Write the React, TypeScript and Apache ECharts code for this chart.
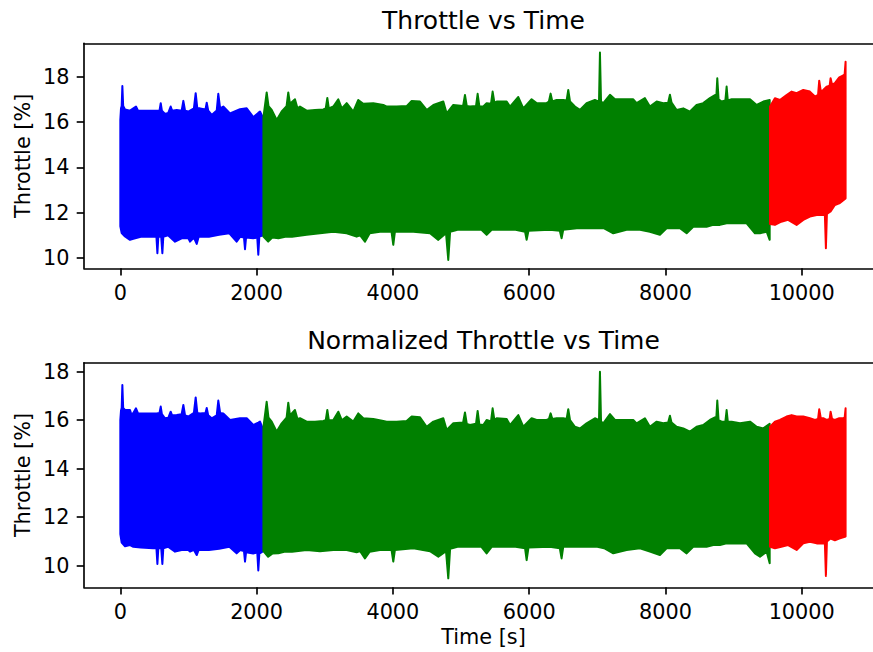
import React, { useEffect, useRef } from "react";
import * as echarts from "echarts";

// ---- tick labels ----
const timeTicks = [0, 2000, 4000, 6000, 8000, 10000];
const throttleTicks = [10, 12, 14, 16, 18];

// ---- titles / labels ----
const titleTop = "Throttle vs Time";
const titleBottom = "Normalized Throttle vs Time";
const yLabel = "Throttle [%]";
const xLabel = "Time [s]";

// ---- Raw throttle: envelope of the signal (time [s], throttle [%]) ----
const rawBlueUpper = [
  [0, 16.1], [10, 16.6], [20, 16.7], [30, 17.59], [42, 16.7], [69, 16.55], [142, 16.5], [191, 16.6],
  [230, 16.68], [260, 16.5], [387, 16.5], [534, 16.5], [575, 16.5], [593, 16.83], [610, 16.5],
  [656, 16.35], [704, 16.4], [739, 16.68], [760, 16.5], [828, 16.53], [900, 16.5], [925, 16.93],
  [950, 16.5], [998, 16.46], [1080, 16.6], [1106, 17.27], [1130, 16.6], [1170, 16.6], [1250, 16.55],
  [1268, 16.85], [1290, 16.5], [1341, 16.31], [1415, 16.5], [1438, 17.24], [1465, 16.6], [1511, 16.68],
  [1610, 16.38], [1756, 16.56], [1855, 16.6], [1952, 16.21], [2025, 16.4], [2050, 16.46], [2098, 16.16],
];
const rawBlueLower = [
  [0, 11.4], [20, 11.1], [69, 10.95], [142, 10.8], [191, 10.85], [300, 10.94], [480, 10.94], [530, 10.94],
  [544, 10.21], [558, 10.94], [600, 10.94], [617, 10.21], [631, 10.94], [700, 11.0], [803, 10.72],
  [900, 10.87], [998, 10.87], [1023, 10.72], [1080, 10.9], [1121, 10.62], [1150, 10.94], [1300, 10.94],
  [1450, 11.02], [1600, 11.09], [1707, 10.72], [1760, 10.94], [1815, 10.9], [1830, 10.39], [1845, 10.9],
  [1950, 10.87], [2010, 10.9], [2025, 10.14], [2040, 10.94], [2098, 11.0],
];
const rawGreenUpper = [
  [2100, 16.2], [2148, 17.3], [2175, 16.7], [2222, 16.53], [2295, 16.09], [2368, 16.46], [2440, 16.7],
  [2465, 17.3], [2490, 16.8], [2563, 17.0], [2600, 16.6], [2637, 16.68], [2735, 16.5], [2857, 16.53],
  [2979, 16.55], [3015, 16.6], [3038, 17.06], [3060, 16.6], [3126, 16.68], [3199, 17.0], [3250, 16.6],
  [3322, 16.83], [3419, 16.46], [3492, 16.97], [3566, 16.8], [3713, 16.83], [3860, 16.75], [3909, 16.68],
  [4055, 16.68], [4202, 16.7], [4276, 16.93], [4398, 16.9], [4496, 16.53], [4594, 16.75], [4740, 16.9],
  [4789, 16.38], [4887, 16.75], [5030, 16.7], [5058, 17.19], [5085, 16.7], [5131, 16.68], [5220, 16.7],
  [5244, 17.24], [5270, 16.68], [5327, 16.68], [5376, 16.83], [5440, 16.8], [5464, 17.34], [5490, 16.85],
  [5523, 16.9], [5670, 16.9], [5719, 16.68], [5841, 17.1], [5914, 16.6], [6036, 17.0], [6109, 16.83],
  [6256, 16.83], [6290, 16.9], [6315, 17.25], [6340, 16.9], [6403, 16.97], [6501, 16.97], [6550, 16.95],
  [6574, 17.41], [6600, 16.9], [6672, 16.68], [6745, 16.53], [6843, 16.83], [6965, 16.97], [7025, 16.9],
  [7039, 19.06], [7055, 16.9], [7088, 16.83], [7186, 17.2], [7259, 17.0], [7381, 17.0], [7528, 17.0],
  [7577, 16.83], [7699, 17.05], [7772, 16.68], [7871, 16.9], [7968, 16.83], [8040, 16.85], [8066, 17.2],
  [8090, 16.85], [8164, 16.53], [8262, 16.6], [8360, 16.46], [8457, 16.75], [8555, 16.83], [8653, 17.05],
  [8727, 17.19], [8745, 17.0], [8761, 17.93], [8780, 17.0], [8825, 16.9], [8880, 16.95], [8898, 17.56],
  [8915, 16.95], [8972, 17.0], [9094, 17.0], [9241, 17.0], [9339, 16.75], [9437, 16.9], [9530, 16.97],
];
const rawGreenLower = [
  [2100, 10.94], [2170, 10.72], [2230, 10.9], [2320, 10.87], [2420, 10.94], [2520, 10.94], [2735, 11.02],
  [2930, 11.09], [3126, 11.16], [3322, 11.09], [3468, 10.94], [3520, 11.0], [3590, 10.72], [3660, 11.09],
  [3810, 11.16], [3980, 11.16], [4006, 10.58], [4030, 11.16], [4300, 11.16], [4545, 11.09], [4667, 10.8],
  [4780, 11.09], [4813, 9.91], [4840, 11.16], [4950, 11.24], [5300, 11.24], [5376, 11.02], [5450, 11.24],
  [5800, 11.24], [5940, 11.16], [5963, 10.8], [5990, 11.2], [6300, 11.24], [6450, 11.2], [6476, 10.87],
  [6500, 11.24], [6700, 11.31], [7000, 11.31], [7100, 11.31], [7235, 11.09], [7430, 11.24], [7626, 11.24],
  [7772, 11.16], [7919, 11.02], [8017, 11.31], [8213, 11.31], [8311, 11.09], [8408, 11.38], [8604, 11.38],
  [8702, 11.46], [8800, 11.46], [8898, 11.53], [9192, 11.53], [9314, 11.09], [9388, 11.09], [9486, 11.16],
  [9530, 10.8],
];
const rawRedUpper = [
  [9535, 16.68], [9607, 17.05], [9680, 16.97], [9778, 17.19], [9852, 17.34], [9925, 17.27], [10023, 17.41],
  [10120, 17.34], [10194, 17.12], [10240, 17.2], [10257, 17.82], [10280, 17.35], [10316, 17.41],
  [10365, 17.56], [10410, 17.6], [10424, 17.93], [10445, 17.65], [10487, 17.71], [10551, 17.97],
  [10610, 18.05], [10630, 18.1], [10644, 18.66],
];
const rawRedLower = [
  [9535, 11.5], [9607, 11.46], [9700, 11.6], [9800, 11.68], [9925, 11.46], [10023, 11.68], [10120, 11.83],
  [10220, 11.9], [10340, 11.9], [10355, 10.43], [10370, 11.95], [10424, 12.05], [10487, 12.34],
  [10551, 12.41], [10644, 12.63],
];

// ---- Normalized throttle: envelope of the signal ----
const normBlueUpper = [
  [0, 16.0], [10, 16.4], [20, 16.5], [30, 17.45], [42, 16.5], [69, 16.42], [142, 16.42], [165, 16.21],
  [191, 16.3], [230, 16.49], [260, 16.28], [387, 16.28], [534, 16.28], [575, 16.3], [593, 16.56],
  [610, 16.25], [656, 16.08], [704, 16.1], [739, 16.35], [760, 16.2], [828, 16.21], [900, 16.25],
  [925, 16.63], [950, 16.2], [998, 16.15], [1080, 16.3], [1106, 16.94], [1130, 16.3], [1170, 16.28],
  [1250, 16.3], [1268, 16.5], [1290, 16.2], [1341, 16.08], [1415, 16.2], [1438, 16.81], [1465, 16.3],
  [1511, 16.28], [1610, 16.01], [1756, 16.08], [1855, 16.08], [1952, 15.8], [2025, 15.9], [2050, 15.94],
  [2098, 15.6],
];
const normBlueLower = [
  [0, 11.3], [20, 10.95], [69, 10.8], [142, 10.85], [191, 10.78], [300, 10.75], [480, 10.72], [530, 10.72],
  [544, 10.07], [558, 10.72], [600, 10.72], [617, 10.07], [631, 10.72], [700, 10.78], [803, 10.58],
  [900, 10.65], [998, 10.65], [1023, 10.58], [1080, 10.65], [1121, 10.44], [1150, 10.65], [1300, 10.65],
  [1450, 10.7], [1600, 10.78], [1707, 10.51], [1760, 10.65], [1815, 10.6], [1830, 10.17], [1845, 10.55],
  [1950, 10.5], [2010, 10.55], [2025, 9.8], [2040, 10.5], [2098, 10.6],
];
const normGreenUpper = [
  [2100, 15.7], [2148, 16.76], [2175, 16.1], [2222, 15.94], [2295, 15.53], [2368, 15.87], [2440, 16.1],
  [2465, 16.72], [2490, 16.2], [2563, 16.42], [2600, 16.05], [2637, 16.08], [2735, 15.94], [2857, 15.94],
  [2979, 15.97], [3015, 16.0], [3038, 16.42], [3060, 16.0], [3126, 16.01], [3199, 16.35], [3250, 16.0],
  [3322, 16.15], [3419, 15.94], [3492, 16.28], [3566, 16.08], [3713, 16.05], [3860, 15.97], [3909, 15.94],
  [4055, 15.94], [4202, 15.97], [4276, 16.15], [4398, 16.12], [4496, 15.73], [4594, 15.94], [4740, 16.08],
  [4789, 15.6], [4887, 15.87], [5030, 15.9], [5058, 16.32], [5085, 15.85], [5131, 15.8], [5220, 15.85],
  [5244, 16.38], [5270, 15.82], [5327, 15.8], [5376, 16.01], [5440, 15.95], [5464, 16.49], [5490, 16.0],
  [5523, 16.08], [5670, 16.05], [5719, 15.8], [5841, 16.21], [5914, 15.73], [6036, 16.08], [6109, 16.01],
  [6256, 16.01], [6290, 16.05], [6315, 16.28], [6340, 16.05], [6403, 16.08], [6501, 16.08], [6550, 16.05],
  [6574, 16.45], [6600, 16.0], [6672, 15.73], [6745, 15.66], [6843, 15.87], [6965, 16.08], [7025, 16.0],
  [7039, 18.0], [7055, 15.95], [7088, 15.87], [7186, 16.25], [7259, 16.01], [7381, 16.01], [7528, 16.01],
  [7577, 15.87], [7699, 16.08], [7772, 15.73], [7871, 15.94], [7968, 15.87], [8040, 15.9], [8066, 16.18],
  [8090, 15.9], [8164, 15.73], [8262, 15.66], [8360, 15.53], [8457, 15.73], [8555, 15.8], [8653, 16.01],
  [8727, 16.12], [8745, 16.0], [8761, 16.81], [8780, 16.0], [8825, 15.94], [8880, 15.95], [8898, 16.42],
  [8915, 15.95], [8972, 15.94], [9094, 15.87], [9241, 15.94], [9339, 15.73], [9437, 15.66], [9530, 15.85],
];
const normGreenLower = [
  [2100, 10.6], [2170, 10.37], [2230, 10.5], [2320, 10.51], [2420, 10.58], [2520, 10.58], [2735, 10.65],
  [2930, 10.6], [3126, 10.65], [3322, 10.65], [3468, 10.55], [3520, 10.6], [3590, 10.3], [3660, 10.58],
  [3810, 10.65], [3980, 10.65], [4006, 10.17], [4030, 10.65], [4300, 10.72], [4545, 10.6], [4667, 10.37],
  [4780, 10.6], [4813, 9.48], [4840, 10.7], [4950, 10.78], [5300, 10.78], [5376, 10.51], [5450, 10.78],
  [5800, 10.78], [5940, 10.72], [5963, 10.23], [5990, 10.75], [6300, 10.78], [6450, 10.72], [6476, 10.3],
  [6500, 10.78], [6700, 10.78], [7000, 10.78], [7100, 10.72], [7235, 10.51], [7430, 10.65], [7626, 10.72],
  [7772, 10.58], [7919, 10.44], [8017, 10.72], [8213, 10.72], [8311, 10.51], [8408, 10.78], [8604, 10.78],
  [8702, 10.85], [8800, 10.85], [8898, 10.92], [9192, 10.92], [9314, 10.51], [9388, 10.37], [9486, 10.58],
  [9530, 10.1],
];
const normRedUpper = [
  [9535, 15.73], [9607, 15.94], [9680, 16.01], [9778, 16.15], [9852, 16.21], [9925, 16.15], [10023, 16.15],
  [10120, 16.08], [10194, 16.01], [10240, 16.05], [10257, 16.45], [10280, 16.08], [10316, 16.08],
  [10365, 16.01], [10410, 16.05], [10424, 16.35], [10445, 16.05], [10487, 16.01], [10551, 16.08],
  [10610, 16.08], [10630, 16.1], [10644, 16.49],
];
const normRedLower = [
  [9535, 10.78], [9607, 10.72], [9700, 10.78], [9800, 10.85], [9925, 10.65], [10023, 10.92], [10120, 10.99],
  [10220, 10.92], [10340, 10.92], [10355, 9.58], [10370, 11.0], [10424, 11.12], [10487, 11.05],
  [10551, 11.12], [10644, 11.2],
];

const FONT = "DejaVu Sans";
const BLUE = "#0000ff";
const GREEN = "#008000";
const RED = "#ff0000";
const X_MIN = -533;
const X_MAX = 11193;
const TICK_FONT = 20.8;
const TITLE_FONT = 25;

function band(upper: number[][], lower: number[][], color: string, idx: number) {
  return {
    type: "custom",
    xAxisIndex: idx * 2,
    yAxisIndex: idx,
    coordinateSystem: "cartesian2d",
    clip: true,
    silent: true,
    data: upper,
    encode: { x: 0, y: 1 },
    renderItem: (params: any, api: any) => {
      if (params.dataIndex !== 0) return null;
      const pts = upper
        .map((p) => api.coord(p))
        .concat(lower.slice().reverse().map((p) => api.coord(p)));
      return {
        type: "polygon",
        shape: { points: pts },
        style: { fill: color, stroke: color, lineWidth: 2, lineJoin: "round" },
      };
    },
  };
}

const spine = { show: true, onZero: false, lineStyle: { color: "#000", width: 1.65 } };
const tickStyle = { color: "#000", width: 1.65 };
const labelBase = {
  fontSize: TICK_FONT,
  fontFamily: FONT,
  color: "#000",
  formatter: (v: number) => String(v),
};

function xAxisCfg(gridIndex: number) {
  return {
    type: "value",
    gridIndex,
    position: "bottom",
    min: X_MIN,
    max: X_MAX,
    axisLine: spine,
    splitLine: { show: false },
    axisTick: { show: true, inside: false, length: 7.3, customValues: timeTicks, lineStyle: tickStyle },
    axisLabel: { ...labelBase, margin: 13.8, customValues: timeTicks },
  };
}

function topSpineCfg(gridIndex: number) {
  return {
    type: "value",
    gridIndex,
    position: "top",
    min: X_MIN,
    max: X_MAX,
    axisLine: spine,
    splitLine: { show: false },
    axisTick: { show: false },
    axisLabel: { show: false },
  };
}

function yAxisCfg(gridIndex: number, min: number, max: number) {
  return {
    type: "value",
    gridIndex,
    min,
    max,
    axisLine: spine,
    splitLine: { show: false },
    axisTick: { show: true, inside: false, length: 7.3, customValues: throttleTicks, lineStyle: tickStyle },
    axisLabel: { ...labelBase, margin: 14.6, customValues: throttleTicks },
  };
}

export default function App() {
  const ref = useRef<HTMLDivElement>(null);
  useEffect(() => {
    if (!ref.current) return;
    const chart = echarts.init(ref.current, null, { renderer: "svg" });
    const textStyle = (text: string, size: number) => ({
      text,
      font: `${size}px "${FONT}"`,
      fill: "#000",
      align: "center",
      verticalAlign: "middle",
    });
    const option: any = {
      animation: false,
      backgroundColor: "#fff",
      grid: [
        { left: 84, top: 43.3, width: 799, height: 225, outerBoundsMode: "none", containLabel: false },
        { left: 84, top: 362.7, width: 799, height: 224.6, outerBoundsMode: "none", containLabel: false },
      ],
      xAxis: [xAxisCfg(0), topSpineCfg(0), xAxisCfg(1), topSpineCfg(1)],
      yAxis: [yAxisCfg(0, 9.545, 19.47), yAxisCfg(1, 9.11, 18.37)],
      series: [
        band(rawBlueUpper, rawBlueLower, BLUE, 0),
        band(rawGreenUpper, rawGreenLower, GREEN, 0),
        band(rawRedUpper, rawRedLower, RED, 0),
        band(normBlueUpper, normBlueLower, BLUE, 1),
        band(normGreenUpper, normGreenLower, GREEN, 1),
        band(normRedUpper, normRedLower, RED, 1),
      ],
      graphic: [
        { type: "text", x: 483.5, y: 20.5, style: textStyle(titleTop, TITLE_FONT) },
        { type: "text", x: 483.5, y: 340.5, style: textStyle(titleBottom, TITLE_FONT) },
        { type: "text", x: 22.5, y: 155.8, rotation: Math.PI / 2, style: textStyle(yLabel, TICK_FONT) },
        { type: "text", x: 22.5, y: 475, rotation: Math.PI / 2, style: textStyle(yLabel, TICK_FONT) },
        { type: "text", x: 483.5, y: 637, style: textStyle(xLabel, TICK_FONT) },
      ],
    };
    chart.setOption(option);
    return () => chart.dispose();
  }, []);
  return (
    <div style={{ position: "absolute", left: 0, top: 0, width: 873, height: 652, overflow: "hidden", background: "#fff" }}>
      <div ref={ref} style={{ width: 900, height: 652 }} />
    </div>
  );
}
